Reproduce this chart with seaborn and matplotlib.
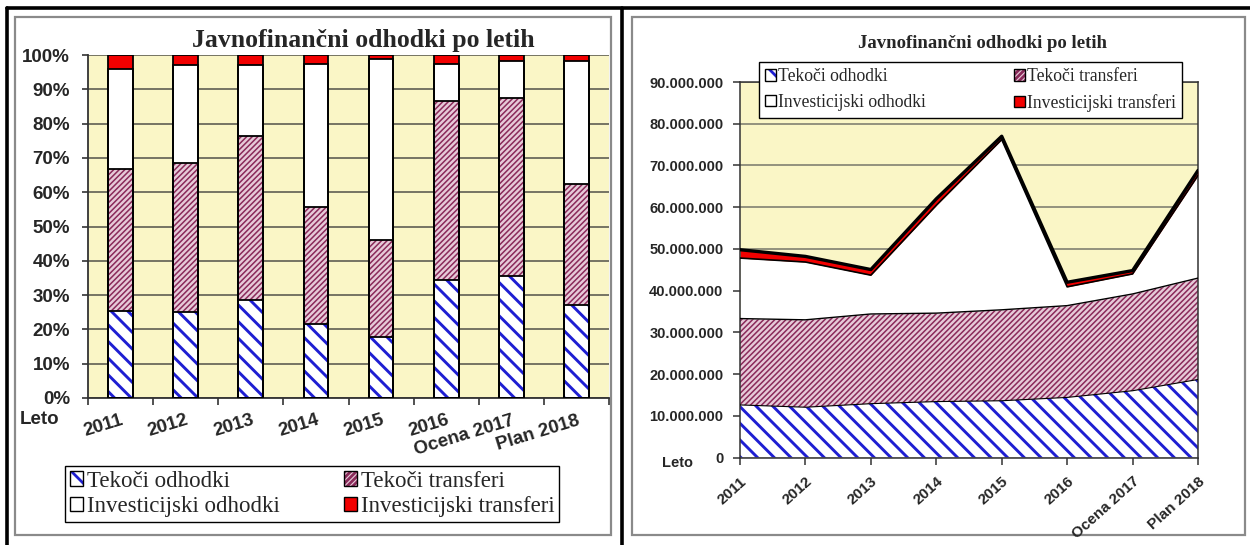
import numpy as np
import pandas as pd
import seaborn as sns
import matplotlib.pyplot as plt
from matplotlib.patches import Rectangle, Patch
from matplotlib.lines import Line2D
from matplotlib.ticker import FuncFormatter

# data (EUR)
leta = ['2011', '2012', '2013', '2014', '2015', '2016', 'Ocena 2017', 'Plan 2018']
tekoci_odhodki = [12600000, 12050000, 12900000, 13400000, 13600000, 14400000, 16000000, 18700000]
tekoci_transferi = [20700000, 20950000, 21500000, 21200000, 21800000, 22000000, 23200000, 24300000]
investicijski_odhodki = [14500000, 13850000, 9300000, 25850000, 40800000, 4500000, 4800000, 24600000]
investicijski_transferi = [2000000, 1350000, 1350000, 1550000, 800000, 1100000, 800000, 1200000]
imena = ['Tekoči odhodki', 'Tekoči transferi', 'Investicijski odhodki', 'Investicijski transferi']
naslov = 'Javnofinančni odhodki po letih'

W, H = 1250, 545
BG = '#FAF6C6'
BLUE = '#1E1ED2'
MAROON = '#8A2A5A'
PINK = '#E6CAD8'
RED = '#F20000'
GRID = '#5e5e52'

sns.set_style('ticks')
plt.rcParams['font.family'] = ['Liberation Sans', 'DejaVu Sans']
plt.rcParams['hatch.linewidth'] = 2.0

df = pd.DataFrame({'leto': leta, 'to': tekoci_odhodki, 'tt': tekoci_transferi,
                   'io': investicijski_odhodki, 'it': investicijski_transferi})
df['c1'] = df['to']
df['c2'] = df['c1'] + df['tt']
df['c3'] = df['c2'] + df['io']
df['c4'] = df['c3'] + df['it']

HATCH_BLUE = '\\\\'
HATCH_MAR = '//////'


def hatch_lw(artist):
    # thicker blue stripes, fine maroon stripes
    if hasattr(artist, 'set_hatch_linewidth') and artist.get_hatch():
        artist.set_hatch_linewidth(2.1 if '\\' in artist.get_hatch() else 1.1)


def legend_handles():
    specs = [(BLUE, HATCH_BLUE, 'white'), (MAROON, HATCH_MAR, PINK),
             ('white', None, 'white'), (RED, None, RED)]
    out = []
    for hc, h, fc in specs:
        inner = Patch(facecolor=fc, edgecolor=hc, hatch=h, linewidth=0)
        hatch_lw(inner)
        out.append((inner, Patch(fill=False, edgecolor='black', linewidth=1)))
    return out


def legend_rows(ax, box, size, **kw):
    # ncol=2 fills by column, so reorder to read row by row
    h = legend_handles()
    order = [0, 2, 1, 3]
    x0, y0, x1, y1 = box
    return ax.legend([h[i] for i in order], [imena[i] for i in order], loc='upper left', ncol=2,
                     mode='expand', bbox_to_anchor=(x0 / W, 1 - y1 / H, (x1 - x0) / W, (y1 - y0) / H),
                     bbox_transform=fig.transFigure, borderaxespad=0, frameon=True, fancybox=False,
                     edgecolor='black', framealpha=1, prop={'family': 'Liberation Serif', 'size': size},
                     **kw)


fig = plt.figure(figsize=(W / 100, H / 100), dpi=100)

# chart-area boxes and the outer table frame
for x0, x1 in [(15, 611), (632, 1245)]:
    fig.add_artist(Rectangle((x0 / W, 1 - 535 / H), (x1 - x0) / W, 518 / H, transform=fig.transFigure,
                             facecolor='white', edgecolor='#8a8a8a', linewidth=1.6, zorder=-1))
fig.add_artist(Line2D([7 / W, 1], [1 - 8 / H] * 2, transform=fig.transFigure, color='black', lw=2.6))
fig.add_artist(Line2D([7 / W] * 2, [0, 1 - 8 / H], transform=fig.transFigure, color='black', lw=2.6))
fig.add_artist(Line2D([622 / W] * 2, [0, 1 - 8 / H], transform=fig.transFigure, color='black', lw=2.6))

# ---- left: shares, 100 % stacked bars
ax1 = fig.add_axes([88 / W, 1 - 398 / H, 521 / W, 343 / H])
ax1.set_facecolor(BG)
share = df[['c1', 'c2', 'c3', 'c4']].div(df['c4'], axis=0) * 100
layers = [('c4', RED, None, RED), ('c3', 'white', None, 'white'),
          ('c2', PINK, HATCH_MAR, MAROON), ('c1', 'white', HATCH_BLUE, BLUE)]
for col, face, hatch, hcol in layers:
    sns.barplot(x=df['leto'], y=share[col], order=leta, color=face, saturation=1, width=0.38,
                hatch=hatch, edgecolor=hcol, linewidth=0, zorder=2, ax=ax1)
for p in list(ax1.patches):
    hatch_lw(p)
    ax1.add_patch(Rectangle(p.get_xy(), p.get_width(), p.get_height(), fill=False,
                            edgecolor='black', linewidth=1.3, zorder=3))
ax1.set_ylim(0, 100)
ax1.set_yticks(range(0, 101, 10))
ax1.yaxis.set_major_formatter(FuncFormatter(lambda v, _: f'{v:.0f}%'))
ax1.yaxis.grid(True, color=GRID, linewidth=1.2)
ax1.set_axisbelow(True)
ax1.set_xlim(-0.5, len(leta) - 0.5)
ax1.set_xticks(range(len(leta)), leta, rotation=17, ha='right', rotation_mode='anchor')
ax1.set_xticks(np.arange(-0.5, len(leta), 1), minor=True)
ax1.tick_params(axis='x', which='major', length=0, pad=10, labelsize=13.5)
ax1.tick_params(axis='x', which='minor', length=5, width=1.2, color='#333333')
ax1.tick_params(axis='y', length=4, width=1.2, pad=9, labelsize=13.5, color='#333333')
for lab in ax1.get_xticklabels() + ax1.get_yticklabels():
    lab.set_fontweight('bold')
ax1.set(xlabel='', ylabel='')
for s in ['top', 'right']:
    ax1.spines[s].set_visible(False)
for s in ['left', 'bottom']:
    ax1.spines[s].set_color('#333333')
    ax1.spines[s].set_linewidth(1.3)
legend_rows(ax1, (65, 466, 559, 522), 16.5, handlelength=0.6, handleheight=0.6,
            handletextpad=0.15, labelspacing=0.2, borderpad=0.2)
fig.text(363 / W, 1 - 40 / H, naslov, ha='center', va='center', fontsize=18.5,
         fontweight='bold', family='Liberation Serif')
fig.text(20 / W, 1 - 419 / H, 'Leto', ha='left', va='center', fontsize=13.5, fontweight='bold')

# ---- right: amounts, stacked area
ax2 = fig.add_axes([740 / W, 1 - 457.5 / H, 458 / W, 375.5 / H])
ax2.set_facecolor(BG)
xpos = np.arange(len(leta))
z = np.zeros(len(leta))
fills = [(z, df['c1'], 'white', BLUE, HATCH_BLUE), (df['c1'], df['c2'], PINK, MAROON, HATCH_MAR),
         (df['c2'], df['c3'], 'white', 'white', None), (df['c3'], df['c4'], RED, RED, None)]
for lo, hi, fc, ec, h in fills:
    poly = ax2.fill_between(xpos, lo, hi, facecolor=fc, edgecolor=ec, hatch=h, linewidth=0, zorder=2)
    hatch_lw(poly)
for col, lw in [('c1', 0.8), ('c2', 1.0), ('c3', 1.2), ('c4', 2.4)]:
    sns.lineplot(x=xpos, y=df[col].to_numpy(), color='black', linewidth=lw, zorder=3, ax=ax2)
ax2.set_xlim(0, len(leta) - 1)
ax2.set_ylim(0, 90e6)
ax2.set_yticks(np.arange(0, 90e6 + 1, 10e6))
ax2.yaxis.set_major_formatter(FuncFormatter(lambda v, _: f'{v:,.0f}'.replace(',', '.')))
ax2.yaxis.grid(True, color='#77776a', linewidth=1.1)
ax2.set_axisbelow(True)
ax2.set_xticks(xpos, leta, rotation=42, ha='right', rotation_mode='anchor')
ax2.tick_params(axis='x', length=5, width=1.1, pad=7, labelsize=11, color='#333333')
ax2.tick_params(axis='y', length=5, width=1.1, pad=7, labelsize=10.5, color='#333333')
for lab in ax2.get_xticklabels() + ax2.get_yticklabels():
    lab.set_fontweight('bold')
ax2.set(xlabel='', ylabel='')
for s in ax2.spines.values():
    s.set_color('#333333')
    s.set_linewidth(1.1)
leg2 = legend_rows(ax2, (759, 62, 1182, 126), 12.7, handlelength=0.6, handleheight=0.6,
                   handletextpad=0.1, labelspacing=0.5, borderpad=0.35)
leg2.set_zorder(5)
fig.text(983 / W, 1 - 43 / H, naslov, ha='center', va='center', fontsize=13.5,
         fontweight='bold', family='Liberation Serif')
fig.text(662 / W, 1 - 463 / H, 'Leto', ha='left', va='center', fontsize=10.5, fontweight='bold')

fig.savefig('out.png', dpi=100, facecolor='white')
